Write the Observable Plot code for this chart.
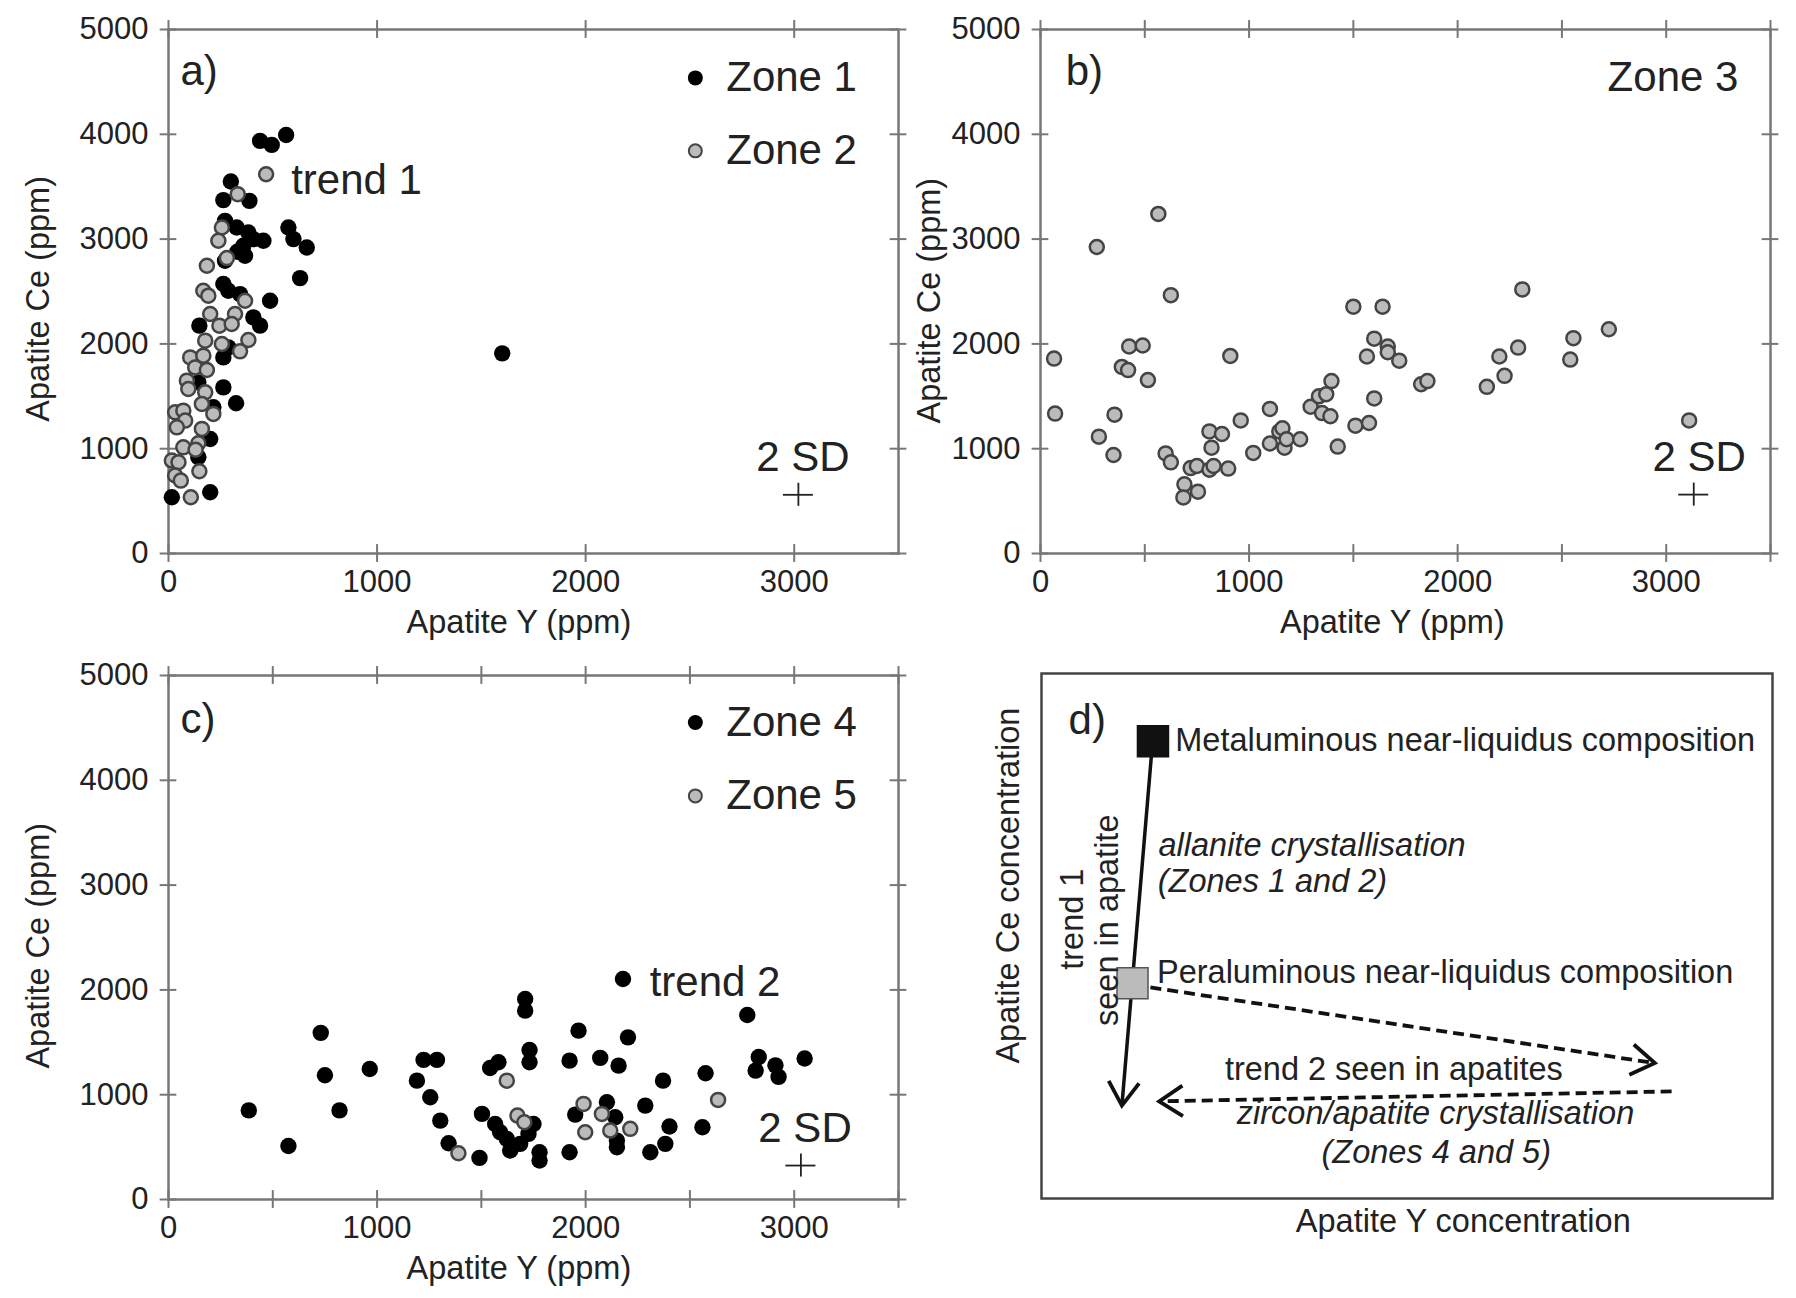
<!DOCTYPE html>
<html><head><meta charset="utf-8">
<script src="https://cdn.jsdelivr.net/npm/d3@7"></script>
<script src="https://cdn.jsdelivr.net/npm/@observablehq/plot@0.6"></script>
<style>
body{margin:0;background:#fff;}
#fig{position:relative;width:1796px;height:1298px;background:#fff;overflow:hidden;}
#fig svg{position:absolute;overflow:visible;}
</style></head><body><div id="fig"></div>
<script>
// ---------- DATA ----------
// Panel a: Zone 1 (black) and Zone 2 (grey)  [Apatite Y ppm, Apatite Ce ppm]
const zone1 = [[439,3937],[495,3899],[564,3994],[299,3549],[263,3372],[388,3365],[271,3174],[327,3111],[383,3063],[455,2984],[359,2936],[367,2841],[575,3111],[599,3000],[663,2920],[631,2628],[263,2571],[287,2507],[343,2475],[487,2412],[407,2253],[271,2793],[148,2174],[439,2174],[263,1871],[287,1967],[143,1633],[263,1585],[324,1433],[215,1395],[200,1093],[143,918],[16,537],[200,584],[1600,1910],[407,3000],[330,2880]];
const zone2 = [[468,3619],[332,3429],[256,3111],[239,2984],[280,2819],[184,2746],[167,2507],[191,2460],[367,2412],[200,2285],[319,2285],[244,2174],[303,2190],[176,2031],[256,1999],[383,2037],[343,1929],[104,1871],[167,1888],[128,1776],[184,1751],[88,1649],[95,1570],[176,1538],[160,1427],[32,1347],[71,1363],[80,1268],[215,1332],[40,1204],[160,1189],[71,1013],[143,1052],[16,887],[48,871],[148,785],[32,744],[59,696],[107,537],[130,990]];
// Panel b: Zone 3 (grey)
const zone3 = [[65,1860],[70,1335],[270,2925],[280,1115],[350,940],[355,1325],[390,1780],[420,1750],[425,1975],[490,1985],[515,1655],[565,3240],[600,955],[625,870],[625,2465],[690,660],[685,535],[720,815],[750,835],[755,590],[810,800],[810,1165],[820,1010],[830,835],[870,1140],[900,810],[910,1885],[960,1270],[1020,960],[1100,1050],[1100,1380],[1145,1165],[1160,1195],[1170,1010],[1180,1090],[1245,1090],[1295,1400],[1335,1500],[1370,1520],[1350,1340],[1390,1310],[1395,1645],[1425,1020],[1500,2355],[1510,1220],[1575,1245],[1600,1480],[1565,1880],[1600,2050],[1640,2355],[1665,1975],[1665,1920],[1720,1840],[1825,1615],[1855,1645],[2140,1590],[2200,1880],[2225,1695],[2290,1965],[2310,2520],[2540,1850],[2555,2055],[2725,2140],[3110,1270]];
// Panel c: Zone 4 (black) and Zone 5 (grey)
const zone4 = [[385,850],[575,510],[730,1590],[750,1185],[820,850],[965,1245],[1191,1134],[1223,1332],[1287,1332],[1255,975],[1303,753],[1343,537],[1491,397],[1503,817],[1542,1255],[1582,1309],[1566,721],[1590,642],[1622,578],[1646,499],[1638,467],[1686,531],[1726,626],[1750,721],[1779,451],[1779,372],[1710,1913],[1710,1802],[1731,1427],[1731,1309],[1923,451],[1923,1325],[1950,810],[1966,1611],[2070,1351],[2102,928],[2142,785],[2150,562],[2150,499],[2158,1277],[2179,2104],[2203,1547],[2286,896],[2310,451],[2371,1134],[2382,531],[2402,696],[2560,690],[2575,1205],[2775,1760],[2815,1230],[2830,1360],[2910,1280],[2925,1170],[3050,1345]];
const zone5 = [[1390,441],[1622,1134],[1673,801],[1706,737],[1990,912],[1998,642],[2078,817],[2118,658],[2214,674],[2635,950]];
// 2 SD error crosses [Y, Ce, ±Y, ±Ce]
const sdA = [{x:3020, y:560, ex:72, ey:110}];
const sdB = [{x:3132, y:562, ex:72, ey:110}];
const sdC = [{x:3032, y:324, ex:72, ey:110}];
// Tick values
const yTicks = [0,1000,2000,3000,4000,5000];
const xTickLabels = [0,1000,2000,3000];
const xTickMarksA = [0,1000,2000,3000];
const xTickMarksBC = [0,500,1000,1500,2000,2500,3000,3500];
// Panel d schematic (relative concentration units 0-100)
const compositions = [
  {name:"Metaluminous near-liquidus composition", x:15.25, y:87.1, kind:"meta"},
  {name:"Peraluminous near-liquidus composition", x:12.45, y:41.0, kind:"per"}
];
const trends = [
  {x1:15.2, y1:87.1, x2:11.0, y2:17.7, dashed:false},
  {x1:14.9, y1:40.2, x2:83.9, y2:25.8, dashed:true},
  {x1:86.2, y1:20.4, x2:16.1, y2:18.5, dashed:true}
];

// ---------- STYLE ----------
const FONT = "'Liberation Sans', Arial, Helvetica, sans-serif";
const PW = 730, PH = 524, ML = 130, MR = 24, MT = 20, MB = 100;
const FRAME = "#777", TXT = "#222";
const fig = document.getElementById("fig");
const fmt = d => String(d);

function scatterPanel(o) {
  const marks = [
    Plot.frame({stroke: FRAME, strokeWidth: 2.5}),
    Plot.ruleX(o.xTickMarks, {x: d => d, y1: -85, y2: 85, stroke: FRAME, strokeWidth: 2}),
    Plot.ruleX(o.xTickMarks, {x: d => d, y1: 4915, y2: 5085, stroke: FRAME, strokeWidth: 2}),
    Plot.ruleY(yTicks, {y: d => d, x1: -40, x2: 40, stroke: FRAME, strokeWidth: 2}),
    Plot.ruleY(yTicks, {y: d => d, x1: 3460, x2: 3540, stroke: FRAME, strokeWidth: 2}),
    Plot.axisX(xTickLabels, {tickSize: 0, tickPadding: 16, fontSize: 31, color: TXT, label: null, tickFormat: fmt}),
    Plot.axisY(yTicks, {tickSize: 0, tickPadding: 20, fontSize: 31, color: TXT, label: null, tickFormat: fmt}),
    Plot.text(["Apatite Y (ppm)"], {x: o.xTitleX, y: -660, fontSize: 32.5, fill: TXT, lineAnchor: "middle"}),
    Plot.text(["Apatite Ce (ppm)"], {x: o.yTitleX, y: o.yTitleY, rotate: -90, fontSize: 32.5, fill: TXT, lineAnchor: "middle"}),
    Plot.text([o.letter], {x: o.letterX, y: o.letterY, fontSize: 42, fill: TXT, textAnchor: "start", lineAnchor: "middle"}),
    Plot.text(["2 SD"], {x: o.sdLabelX, y: o.sdLabelY, fontSize: 42, fill: TXT, textAnchor: "start", lineAnchor: "middle"}),
    Plot.ruleX(o.sd, {x: "x", y1: d => d.y - d.ey, y2: d => d.y + d.ey, stroke: TXT, strokeWidth: 1.8}),
    Plot.ruleY(o.sd, {y: "y", x1: d => d.x - d.ex, x2: d => d.x + d.ex, stroke: TXT, strokeWidth: 1.8}),
    ...o.extra
  ];
  for (const s of o.series) {
    marks.push(s.black
      ? Plot.dot(s.data, {x: d => d[0], y: d => d[1], r: 8.2, fill: "#000", stroke: "none"})
      : Plot.dot(s.data, {x: d => d[0], y: d => d[1], r: 7, fill: "#bbb", stroke: "#444", strokeWidth: 2.5}));
  }
  const svg = Plot.plot({
    width: PW + ML + MR, height: PH + MT + MB,
    marginLeft: ML, marginRight: MR, marginTop: MT, marginBottom: MB,
    style: {fontFamily: FONT, background: "transparent", overflow: "visible"},
    x: {domain: [0, 3500], label: null},
    y: {domain: [0, 5000], label: null},
    marks
  });
  svg.style.left = o.left + "px";
  svg.style.top = o.top + "px";
  fig.appendChild(svg);
}

function legendMarks(names, yDot) {
  return [
    Plot.dot([names[0]], {x: 2526, y: yDot[0], r: 7.5, fill: "#000", stroke: "none"}),
    Plot.dot([names[1]], {x: 2526, y: yDot[1], r: 6.5, fill: "#bbb", stroke: "#444", strokeWidth: 2}),
    Plot.text(names, {x: 2674, y: (d, i) => yDot[i], fontSize: 42, fill: TXT, textAnchor: "start", lineAnchor: "middle"})
  ];
}

// Panel a
scatterPanel({
  left: 38, top: 9, xTickMarks: xTickMarksA, letter: "a)", letterX: 57, letterY: 4595,
  xTitleX: 1680, yTitleX: -623, yTitleY: 2430, sd: sdA, sdLabelX: 2818, sdLabelY: 915,
  series: [{data: zone1, black: true}, {data: zone2, black: false}],
  extra: [
    ...legendMarks(["Zone 1", "Zone 2"], [4538, 3842]),
    Plot.text(["trend 1"], {x: 588, y: 3556, fontSize: 42, fill: TXT, textAnchor: "start", lineAnchor: "middle"})
  ]
});
// Panel b
scatterPanel({
  left: 910, top: 9, xTickMarks: xTickMarksBC, letter: "b)", letterX: 121, letterY: 4595,
  xTitleX: 1687, yTitleX: -532, yTitleY: 2412, sd: sdB, sdLabelX: 2934, sdLabelY: 915,
  series: [{data: zone3, black: false}],
  extra: [
    Plot.text(["Zone 3"], {x: 3346, y: 4538, fontSize: 42, fill: TXT, textAnchor: "end", lineAnchor: "middle"})
  ]
});
// Panel c
scatterPanel({
  left: 38, top: 655, xTickMarks: xTickMarksBC, letter: "c)", letterX: 57, letterY: 4576,
  xTitleX: 1680, yTitleX: -623, yTitleY: 2421, sd: sdC, sdLabelX: 2828, sdLabelY: 677,
  series: [{data: zone4, black: true}, {data: zone5, black: false}],
  extra: [
    ...legendMarks(["Zone 4", "Zone 5"], [4551, 3851]),
    Plot.text(["trend 2"], {x: 2307, y: 2072, fontSize: 42, fill: TXT, textAnchor: "start", lineAnchor: "middle"})
  ]
});

// Panel d (schematic)
(function () {
  const DW = 731, DH = 525, DML = 60, DMR = 20, DMT = 20, DMB = 70;
  const sx = Plot.scale({x: {domain: [0, 100], range: [DML, DML + DW]}});
  const sy = Plot.scale({y: {domain: [0, 100], range: [DMT + DH, DMT]}});
  const rot = d => Math.atan2(sx.apply(d.x2) - sx.apply(d.x1), -(sy.apply(d.y2) - sy.apply(d.y1))) * 180 / Math.PI;
  const head = {
    draw(ctx, l) {
      const a = 33 * Math.PI / 180;
      const w = l * Math.sin(a), h = l * Math.cos(a);
      ctx.moveTo(-w, h); ctx.lineTo(0, 0); ctx.lineTo(w, h);
    }
  };
  const T = {fill: TXT, fontSize: 32.5};
  const svg = Plot.plot({
    width: DW + DML + DMR, height: DH + DMT + DMB,
    marginLeft: DML, marginRight: DMR, marginTop: DMT, marginBottom: DMB,
    style: {fontFamily: FONT, background: "transparent", overflow: "visible"},
    x: {domain: [0, 100], axis: null},
    y: {domain: [0, 100], axis: null},
    marks: [
      Plot.frame({stroke: "#444", strokeWidth: 2.5}),
      Plot.link(trends.filter(d => !d.dashed), {x1: "x1", y1: "y1", x2: "x2", y2: "y2", stroke: "#111", strokeWidth: 3.5}),
      Plot.link(trends.filter(d => d.dashed), {x1: "x1", y1: "y1", x2: "x2", y2: "y2", stroke: "#111", strokeWidth: 3.8, strokeDasharray: "11,6"}),
      Plot.vector(trends, {x: "x2", y: "y2", length: 28, rotate: rot, anchor: "start", shape: head, stroke: "#111", strokeWidth: 3.8, fill: "none", strokeLinecap: "butt", strokeLinejoin: "miter"}),
      Plot.dot(compositions, {x: "x", y: "y", symbol: "square", r: 17.5,
        fill: d => d.kind === "meta" ? "#111" : "#bbb", stroke: d => d.kind === "meta" ? "#111" : "#555", strokeWidth: 1.5}),
      Plot.text(["d)"], {x: 3.7, y: 91, ...T, fontSize: 42, textAnchor: "start", lineAnchor: "middle"}),
      Plot.text([compositions[0].name], {x: 18.3, y: 87.3, ...T, textAnchor: "start", lineAnchor: "middle"}),
      Plot.text([compositions[1].name], {x: 15.8, y: 43.0, ...T, textAnchor: "start", lineAnchor: "middle"}),
      Plot.text(["allanite crystallisation"], {x: 16.0, y: 67.2, ...T, fontStyle: "italic", textAnchor: "start", lineAnchor: "middle"}),
      Plot.text(["(Zones 1 and 2)"], {x: 15.9, y: 60.4, ...T, fontStyle: "italic", textAnchor: "start", lineAnchor: "middle"}),
      Plot.text(["trend 1"], {x: 4.2, y: 53.2, ...T, rotate: -90, lineAnchor: "middle"}),
      Plot.text(["seen in apatite"], {x: 9.0, y: 53.0, ...T, rotate: -90, lineAnchor: "middle"}),
      Plot.text(["trend 2 seen in apatites"], {x: 48.2, y: 24.6, ...T, lineAnchor: "middle"}),
      Plot.text(["zircon/apatite crystallisation"], {x: 53.9, y: 16.2, ...T, fontStyle: "italic", lineAnchor: "middle"}),
      Plot.text(["(Zones 4 and 5)"], {x: 54.0, y: 8.7, ...T, fontStyle: "italic", lineAnchor: "middle"}),
      Plot.text(["Apatite Y concentration"], {x: 57.7, y: -4.4, ...T, lineAnchor: "middle"}),
      Plot.text(["Apatite Ce concentration"], {x: -4.5, y: 59.6, ...T, rotate: -90, lineAnchor: "middle"})
    ]
  });
  svg.style.left = (1041 - DML) + "px";
  svg.style.top = (673 - DMT) + "px";
  fig.appendChild(svg);
})();
</script>
</body></html>
